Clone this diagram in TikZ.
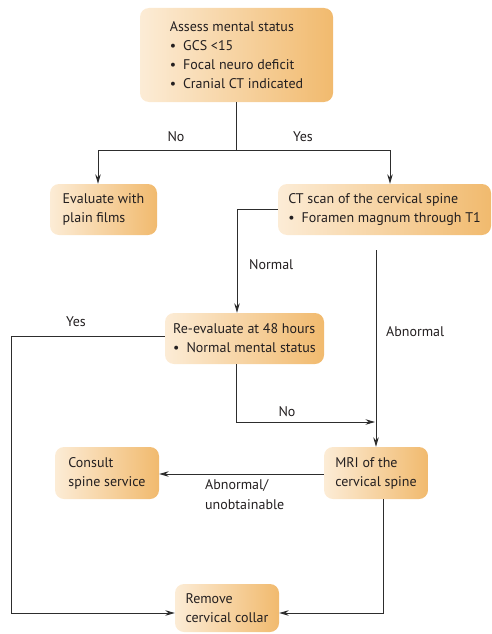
\documentclass[tikz,border=0pt]{standalone}
\usepackage{fontspec}
\setmainfont{PT Sans}
\usepackage{tikz}
\usetikzlibrary{arrows.meta, positioning, calc}
\definecolor{boxlight}{RGB}{252, 236, 214}
\definecolor{boxdark}{RGB}{241, 186, 110}
\definecolor{linegray}{RGB}{45, 45, 45}
\definecolor{textgray}{RGB}{35, 31, 32}

\begin{document}
\begin{tikzpicture}[x=1pt, y=-1pt,
    stepbox/.style={rounded corners=9pt, left color=boxlight, right color=boxdark,
        draw=none, align=left, inner sep=0pt, text=textgray, font=\fontsize{14}{19}\selectfont},
    flow/.style={draw=linegray, line width=0.9pt, -{Stealth[length=9.5pt, width=5.5pt]}},
    plain/.style={draw=linegray, line width=0.9pt},
    lbl/.style={font=\fontsize{14}{16}\selectfont, text=textgray, align=left, inner sep=0pt}]
        \useasboundingbox (0,0) rectangle (492,634);
        % boxes
        \node[stepbox, minimum width=193pt, minimum height=94pt] (assess) at (236.5,55)
            {Assess mental status\\ •\enspace GCS <15\\ •\enspace Focal neuro deficit\\ •\enspace Cranial CT indicated};
        \node[stepbox, minimum width=107pt, minimum height=51pt] (evalplain) at (103.5,209.5)
            {Evaluate with\\ plain films};
        \node[stepbox, minimum width=213pt, minimum height=51pt] (ctscan) at (384.5,209.5)
            {CT scan of the cervical spine\\ •\enspace Foramen magnum through T1};
        \node[stepbox, minimum width=159pt, minimum height=51pt] (reeval) at (244.5,338.5)
            {Re-evaluate at 48 hours\\ •\enspace Normal mental status};
        \node[stepbox, minimum width=104pt, minimum height=52pt] (mri) at (376,473)
            {MRI of the\\ cervical spine};
        \node[stepbox, minimum width=104pt, minimum height=52pt] (consult) at (107,473)
            {Consult\\ spine service};
        \node[stepbox, minimum width=104pt, minimum height=48pt] (remove) at (227,608)
            {Remove\\ cervical collar};
        % bends
        \coordinate (split) at (236.5,150);
        \coordinate (abnstart) at (376,250);
        \coordinate (noend) at (375,422);
        \coordinate (yescorner) at (11,613);
        % connectors
        \draw[plain] (assess.south) -- (split);
        \draw[flow] (split) -| ([xshift=-5.5pt]evalplain.north);
        \draw[flow] (split) -| ([xshift=5.5pt]ctscan.north);
        \draw[flow] (ctscan.west) -| ([xshift=-7.5pt]reeval.north);
        \draw[flow] ([yshift=2.5pt]reeval.west) -| (yescorner) -- ([yshift=-5pt]remove.west);
        \draw[flow] ([xshift=-8.5pt]reeval.south) |- (noend);
        \draw[flow] (abnstart) -- (mri.north);
        \draw[flow] ([yshift=-1pt]mri.west) -- ([yshift=-1pt]consult.east);
        \draw[flow] ([xshift=7pt]mri.south) |- ([yshift=-5pt]remove.east);
        % labels
        \node[lbl] (lblno) at (176,137) {No};
        \node[lbl] (lblyes) at (303,137) {Yes};
        \node[lbl, anchor=west] (lblnormal) at (249,265) {Normal};
        \node[lbl, anchor=west] (lblabn) at (386,332) {Abnormal};
        \node[lbl] (lblyes2) at (76,322) {Yes};
        \node[lbl] (lblno2) at (287,412) {No};
        \node[lbl, anchor=north west, font=\fontsize{14}{20}\selectfont] (lblunob) at (205,479)
            {Abnormal/\\ unobtainable};
    \end{tikzpicture}
\end{document}
